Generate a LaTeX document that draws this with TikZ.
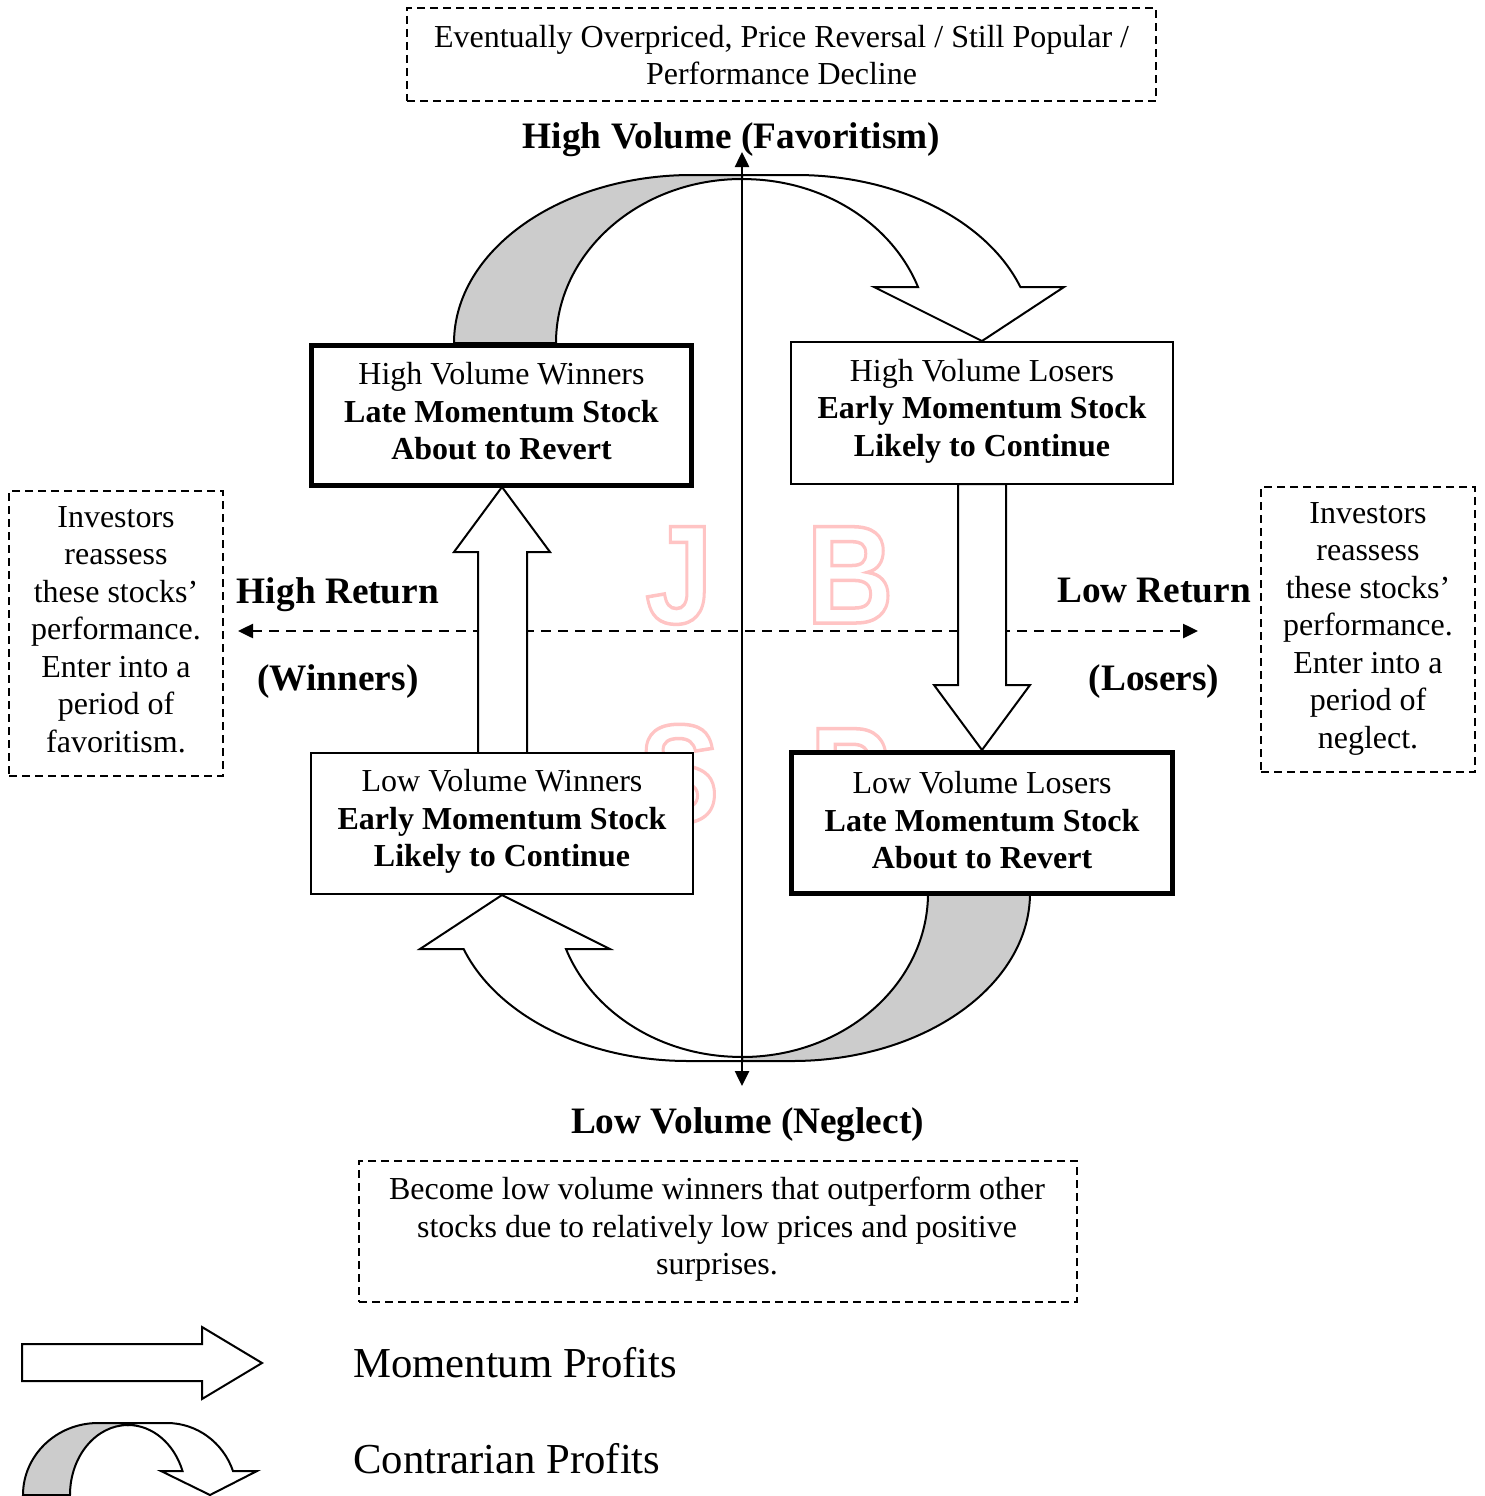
\documentclass[tikz,border=0pt]{standalone}
\usepackage{fontspec}
\setmainfont{Liberation Serif}
\newfontfamily\wmfont{Liberation Sans}
\usetikzlibrary{arrows.meta}
\definecolor{wmpink}{RGB}{255,196,196}
\definecolor{backgray}{RGB}{204,204,204}
\newcommand\myBody{\fontsize{32}{37.5}\selectfont}
\newcommand\myLbl{\fontsize{37.3}{43}\selectfont\bfseries}
\newcommand\myLeg{\fontsize{42.7}{49}\selectfont}
\newcommand\wmletter[1]{\scalebox{0.86}[1]{\special{pdf:literal direct 1 Tr 3.5 w}#1\special{pdf:literal direct 0 Tr}}}
\tikzset{
  thinbox/.style={draw, line width=2pt, fill=white, inner sep=0pt},
  thickbox/.style={draw, line width=5pt, fill=white, inner sep=0pt},
  dbox/.style={draw, line width=2pt, dash pattern=on 8pt off 5pt, inner sep=0pt},
  bodytext/.style={font=\myBody, align=center, inner sep=0pt},
  lbltext/.style={font=\myLbl, inner sep=0pt},
  legtext/.style={font=\myLeg, inner sep=0pt, anchor=west},
  wmtext/.style={font=\wmfont\bfseries\fontsize{140}{140}\selectfont, text=wmpink, inner sep=0pt, anchor=base},
  shapeline/.style={draw, line width=2pt, line join=miter},
  axisline/.style={line width=2.5pt, {Triangle[length=15pt,width=14pt]}-{Triangle[length=15pt,width=14pt]}},
  daxis/.style={line width=2.5pt, dash pattern=on 10pt off 7pt, {Triangle[length=15pt,width=14pt]}-{Triangle[length=15pt,width=14pt]}},
}
\begin{document}
\begin{tikzpicture}[x=1pt,y=-1pt]
\path[use as bounding box, fill=white] (0,0) rectangle (1484,1496);

% watermark
\node[wmtext] (wmJ) at (679,623) {\wmletter{J}};
\node[wmtext] (wmB) at (850,623) {\wmletter{B}};
\node[wmtext] (wmS) at (679,822) {\wmletter{S}};
\node[wmtext] (wmP) at (850,825) {\wmletter{P}};

% horizontal dashed axis
\coordinate (hl) at (238,631);
\coordinate (hr) at (1198,631);
\draw[daxis] (hl) -- (hr);

% contrarian curved arrows
\foreach \r in {0,180}{
\begin{scope}[rotate around={\r:(742,618)}]
  \path[shapeline, fill=backgray] (454,343) arc[start angle=180, end angle=270, x radius=238, y radius=168]
     -- (742,175) -- (742,179) arc[start angle=270, end angle=180, x radius=186, y radius=164] -- cycle;
  \path[shapeline, fill=white] (742,179) -- (742,175) -- (796,175)
     arc[start angle=270, end angle=340.53, x radius=238, y radius=168]
     -- (1064,287) -- (982,341) -- (874,287) -- (918,287)
     arc[start angle=340, end angle=270, x radius=186, y radius=164] -- cycle;
\end{scope}
}

% momentum block arrows
\path[shapeline, fill=white] (478,753) -- (478,552) -- (454,552) -- (502,487) -- (550,552) -- (527,552) -- (527,753) -- cycle;
\path[shapeline, fill=white] (958,484) -- (958,685) -- (934,685) -- (982,750) -- (1030,685) -- (1006,685) -- (1006,484) -- cycle;

% quadrant boxes
\node[thickbox, minimum width=380pt, minimum height=140pt] (hvw) at (501.5,415.5) {};
\node[thinbox, minimum width=382pt, minimum height=142pt] (hvl) at (982,413) {};
\node[thinbox, minimum width=382pt, minimum height=141pt] (lvw) at (502,823.5) {};
\node[thickbox, minimum width=381pt, minimum height=141pt] (lvl) at (982,823) {};

\node[bodytext] (hvwt) at (501.5,411.5) {High Volume Winners\\\textbf{Late Momentum Stock}\\\textbf{About to Revert}};
\node[bodytext] (hvlt) at (982,411) {High Volume Losers\\\textbf{Early Momentum Stock}\\\textbf{Likely to Continue}};
\node[bodytext] (lvwt) at (502,821.5) {Low Volume Winners\\\textbf{Early Momentum Stock}\\\textbf{Likely to Continue}};
\node[bodytext] (lvlt) at (982,820.5) {Low Volume Losers\\\textbf{Late Momentum Stock}\\\textbf{About to Revert}};

% vertical axis
\coordinate (vtop) at (742,152);
\coordinate (vbot) at (742,1086);
\draw[axisline] (vbot) -- (vtop);

% dashed note boxes
\node[dbox, minimum width=749pt, minimum height=93pt] (topbox) at (781.5,54.5) {};
\node[bodytext] (topt) at (781.5,55) {Eventually Overpriced, Price Reversal / Still Popular /\\Performance Decline};
\node[dbox, minimum width=214pt, minimum height=285pt] (leftbox) at (116,633.5) {};
\node[bodytext] (leftt) at (116,629.5) {Investors\\reassess\\these stocks’\\performance.\\Enter into a\\period of\\favoritism.};
\node[dbox, minimum width=214pt, minimum height=285pt] (rightbox) at (1368,629.5) {};
\node[bodytext] (rightt) at (1368,628.5) {Investors\\reassess\\these stocks’\\performance.\\Enter into a\\period of\\neglect.};
\node[dbox, minimum width=718pt, minimum height=141pt] (botbox) at (718,1231.5) {};
\node[bodytext] (bott) at (717,1229.5) {Become low volume winners that outperform other\\stocks due to relatively low prices and positive\\surprises.};

% axis labels
\node[lbltext] (hv) at (731.5,140) {High Volume (Favoritism)};
\node[lbltext] (lv) at (747.5,1125) {Low Volume (Neglect)};
\node[lbltext] (hr1) at (338,595) {High Return};
\node[lbltext] (hr2) at (338,682) {(Winners)};
\node[lbltext] (lr1) at (1154,591) {Low Return};
\node[lbltext] (lr2) at (1154,682) {(Losers)};

% legend
\path[shapeline, fill=white] (22,1344) -- (202,1344) -- (202,1327) -- (262,1363) -- (202,1399) -- (202,1381) -- (22,1381) -- cycle;
\path[shapeline, fill=backgray] (23,1495) arc[start angle=180, end angle=270, x radius=75, y radius=72]
   -- (128,1423) -- (128,1425) arc[start angle=270, end angle=180, x radius=58, y radius=70] -- cycle;
\path[shapeline, fill=white] (128,1425) -- (128,1423) -- (167,1423)
   arc[start angle=270, end angle=340.53, x radius=70, y radius=72]
   -- (257,1471) -- (210,1495) -- (161,1471) -- (182.5,1471)
   arc[start angle=339.95, end angle=270, x radius=58, y radius=70] -- cycle;
\node[legtext] (mp) at (353,1363) {Momentum Profits};
\node[legtext] (cp) at (353,1459) {Contrarian Profits};
\end{tikzpicture}
\end{document}
